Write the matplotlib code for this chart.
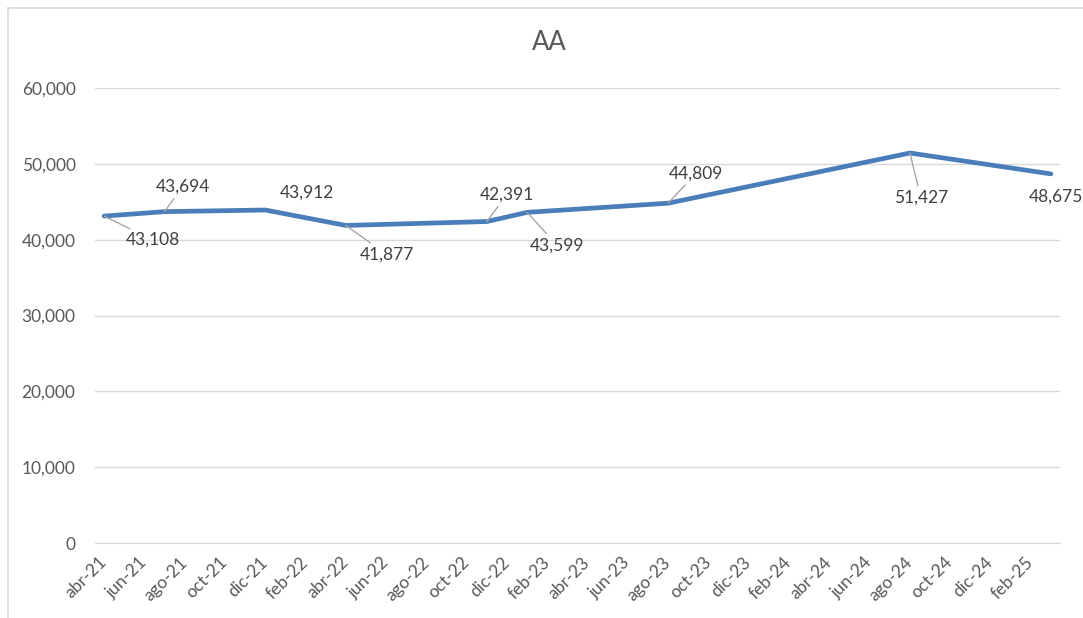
import matplotlib
matplotlib.use("Agg")
import matplotlib.pyplot as plt
from matplotlib.lines import Line2D
from matplotlib.ticker import FuncFormatter, MultipleLocator

plt.rcParams['font.family'] = ['Lato', 'DejaVu Sans']

# ---- data ----
months_es = ["ene", "feb", "mar", "abr", "may", "jun", "jul", "ago", "sep", "oct", "nov", "dic"]
# month index 0 = abr-21
point_months = [0, 3, 8, 12, 19, 21, 28, 40, 47]
point_values = [43108, 43694, 43912, 41877, 42391, 43599, 44809, 51427, 48675]
title = "AA"

# label offsets in pixels (dx, dy), and whether a leader line is drawn
label_offsets = [(49, -24), (18, 25), (42, 17), (41, -29), (20, 27),
                 (30, -33), (28, 30), (11, -45), (5, -23)]
leader = [True, True, False, True, True, True, True, True, False]

def month_label(i):
    m = (3 + i) % 12
    y = 21 + (3 + i) // 12
    return f"{months_es[m]}-{y:02d}"

tick_idx = list(range(0, 47, 2))
tick_labels = [month_label(i) for i in tick_idx]

fig = plt.figure(figsize=(10.83, 6.18), dpi=100)
ax = fig.add_axes([95/1083, 1 - 543/618, (1060 - 95)/1083, (543 - 88)/618])

ax.plot(point_months, point_values, color="#4A7EBB", lw=3.4, solid_joinstyle="round",
        solid_capstyle="round", zorder=3)

for x, v, (dx, dy), ld in zip(point_months, point_values, label_offsets, leader):
    kw = {}
    if ld:
        kw["arrowprops"] = dict(arrowstyle="-", color="#A6A6A6", lw=1.0,
                                shrinkA=1, shrinkB=0)
    ax.annotate(f"{v:,}", xy=(x, v), xytext=(dx, dy), textcoords="offset pixels",
                ha="center", va="center", fontsize=12.5, color="#404040",
                zorder=4, **kw)

ax.set_xlim(-0.45, 47.45)
ax.set_ylim(0, 60000)
ax.yaxis.set_major_locator(MultipleLocator(10000))
ax.yaxis.set_major_formatter(FuncFormatter(lambda v, p: f"{int(v):,}"))
ax.grid(axis="y", color="#D9D9D9", lw=1.0)
ax.set_axisbelow(True)
for s in ax.spines.values():
    s.set_visible(False)
ax.spines["bottom"].set_visible(True)
ax.spines["bottom"].set_color("#D9D9D9")

ax.set_xticks(tick_idx)
ax.set_xticklabels(tick_labels, rotation=45, ha="right", va="center",
                   rotation_mode="anchor")
ax.tick_params(axis="x", length=0, pad=12, labelsize=12.5, labelcolor="#595959")
ax.tick_params(axis="y", length=0, pad=14, labelsize=12.5, labelcolor="#595959")

fig.text(549/1083, 1 - 43/618, title, ha="center", va="center", fontsize=18.5,
         color="#595959")

# chart border (left and top visible)
fig.add_artist(Line2D([8/1083, 8/1083], [0, 1 - 8/618], transform=fig.transFigure,
                      color="#D9D9D9", lw=1.2))
fig.add_artist(Line2D([8/1083, 1], [1 - 8/618, 1 - 8/618], transform=fig.transFigure,
                      color="#D9D9D9", lw=1.2))

fig.savefig("out.png", dpi=100)
